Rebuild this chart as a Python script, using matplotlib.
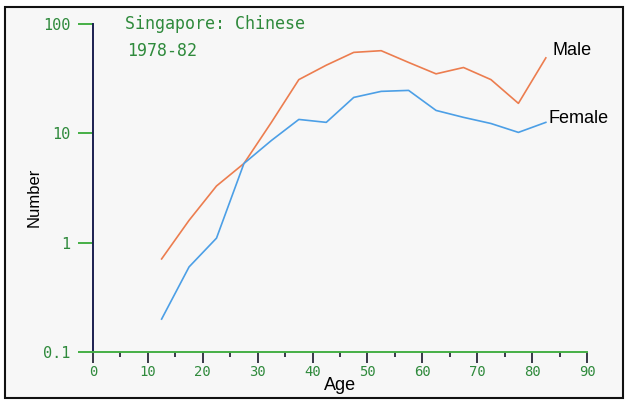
import matplotlib
matplotlib.use("Agg")
import matplotlib.pyplot as plt
from matplotlib.patches import Rectangle

# Age-group midpoints (years) and counts per group
ages = [12.5, 17.5, 22.5, 27.5, 32.5, 37.5, 42.5, 47.5, 52.5, 57.5, 62.5, 67.5, 72.5, 77.5, 82.5]
male = [0.71, 1.6, 3.3, 5.3, 12.6, 31, 42, 55, 57, 44.5, 35, 40, 31, 18.8, 49]
female = [0.2, 0.6, 1.1, 5.3, 8.6, 13.4, 12.6, 21.3, 24.2, 24.7, 16.2, 14, 12.3, 10.2, 12.6]

x_ticks = [0, 10, 20, 30, 40, 50, 60, 70, 80, 90]
x_minor = [5, 15, 25, 35, 45, 55, 65, 75, 85]
y_ticks = [0.1, 1, 10, 100]
y_labels = ["0.1", "1", "10", "100"]

title = "Singapore: Chinese"
subtitle = "1978-82"

W, H = 626, 401
GREEN_TXT = "#2f8a3c"
GREEN_AX = "#46b046"
NAVY = "#1c2050"
MALE_C = "#ec7d4f"
FEMALE_C = "#4c9fe6"
MONO = ["DejaVu Sans Mono"]
SANS = ["Liberation Sans", "DejaVu Sans"]

fig = plt.figure(figsize=(W / 100, H / 100), dpi=100, facecolor="white")

# framed panel behind everything
frame = Rectangle((5 / W, 1 - 398 / H), 618 / W, 391 / H,
                  transform=fig.transFigure, facecolor="#f7f7f7",
                  edgecolor="#111111", linewidth=1.5, zorder=-10)
fig.add_artist(frame)

ax = fig.add_axes([93 / W, 1 - 352 / H, 494 / W, 328 / H])
ax.set_zorder(1)
ax.set_facecolor("none")
ax.set_yscale("log")
ax.set_xlim(0, 90)
ax.set_ylim(0.1, 100)

ax.plot(ages, male, color=MALE_C, lw=1.2, solid_joinstyle="round")
ax.plot(ages, female, color=FEMALE_C, lw=1.2, solid_joinstyle="round")

for s in ("top", "right"):
    ax.spines[s].set_visible(False)
ax.spines["left"].set_color(NAVY)
ax.spines["left"].set_linewidth(1.4)
ax.spines["bottom"].set_color(GREEN_AX)
ax.spines["bottom"].set_linewidth(1.4)

ax.set_xticks(x_ticks)
ax.set_xticks(x_minor, minor=True)
ax.set_xticklabels([str(t) for t in x_ticks], family=MONO, fontsize=10, color=GREEN_TXT)
ax.tick_params(axis="x", which="major", direction="out", length=8, width=1.3,
               color="#2a2a3a", pad=1)
ax.tick_params(axis="x", which="minor", direction="out", length=3.5, width=1.3,
               color="#2a2a3a")

ax.set_yticks(y_ticks)
ax.set_yticklabels(y_labels, family=MONO, fontsize=11, color=GREEN_TXT)
ax.yaxis.set_minor_locator(matplotlib.ticker.NullLocator())
ax.tick_params(axis="y", which="major", direction="out", length=11, width=1.4,
               color=GREEN_AX, pad=5)

# titles
fig.text(125 / W, 1 - 24 / H, title, family=MONO, fontsize=12, color=GREEN_TXT,
         ha="left", va="center")
fig.text(127 / W, 1 - 51 / H, subtitle, family=MONO, fontsize=12, color=GREEN_TXT,
         ha="left", va="center")

# axis labels
fig.text(34 / W, 1 - 197 / H, "Number", family=SANS, fontsize=12, color="black",
         rotation=90, ha="center", va="center")
fig.text(340 / W, 1 - 386 / H, "Age", family=SANS, fontsize=13, color="black",
         ha="center", va="center")

# series labels at line ends
ax.annotate("Male", xy=(ages[-1], male[-1]), xytext=(5, 5), textcoords="offset points",
            family=SANS, fontsize=13, color="black", ha="left", va="center")
ax.annotate("Female", xy=(ages[-1], female[-1]), xytext=(2, 3), textcoords="offset points",
            family=SANS, fontsize=13, color="black", ha="left", va="center")

fig.savefig("out.png", dpi=100, facecolor="white")
